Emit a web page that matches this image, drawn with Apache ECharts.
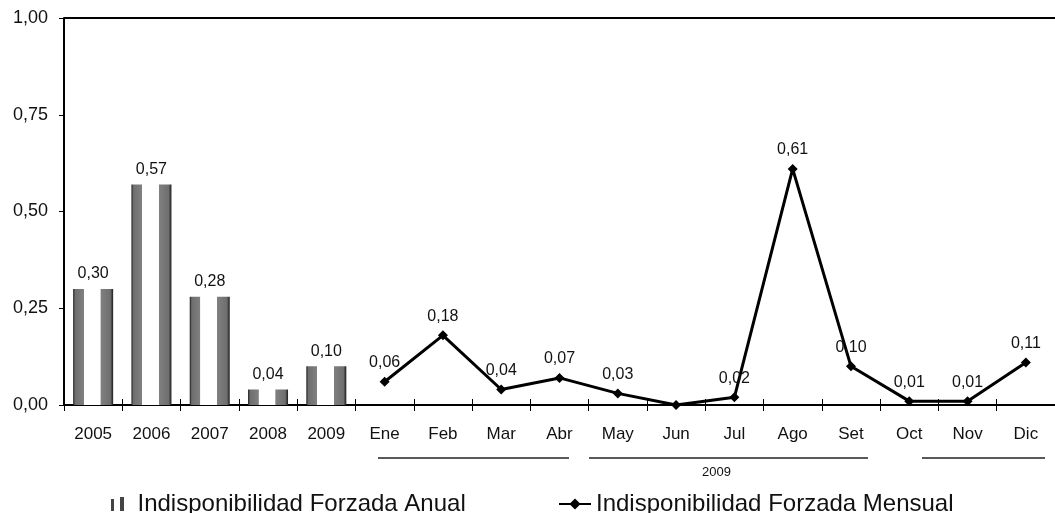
<!DOCTYPE html>
<html>
<head>
<meta charset="utf-8">
<script src="https://cdn.jsdelivr.net/npm/echarts@6/dist/echarts.min.js"></script>
<style>html,body{margin:0;padding:0;background:#fff;}#c{width:1055px;height:513px;}</style>
</head>
<body>
<div id="c"></div>
<script>
var years = ['2005', '2006', '2007', '2008', '2009'];
var annualValues = [0.30, 0.57, 0.28, 0.04, 0.10];
var months = ['Ene', 'Feb', 'Mar', 'Abr', 'May', 'Jun', 'Jul', 'Ago', 'Set', 'Oct', 'Nov', 'Dic'];
var monthlyValues = [0.06, 0.18, 0.04, 0.07, 0.03, 0.00, 0.02, 0.61, 0.10, 0.01, 0.01, 0.11];
var yTicks = [0, 0.25, 0.5, 0.75, 1];
var groupLabel = '2009';
var annualName = 'Indisponibilidad Forzada Anual';
var monthlyName = 'Indisponibilidad Forzada Mensual';

var FONT = "'Liberation Sans', Arial, sans-serif";
var categories = years.concat(months);
var barData = annualValues.concat(months.map(function () { return null; }));
var lineData = years.map(function () { return null; }).concat(monthlyValues);
function fmt(v) { return v.toFixed(2).replace('.', ','); }

var barFill = new echarts.graphic.LinearGradient(0, 0, 1, 0, [
  {offset: 0, color: '#1a1a1a'}, {offset: 0.05, color: '#6e6e6e'},
  {offset: 0.26, color: '#808080'}, {offset: 0.27, color: '#ffffff'},
  {offset: 0.68, color: '#ffffff'}, {offset: 0.69, color: '#808080'},
  {offset: 0.93, color: '#6e6e6e'}, {offset: 1, color: '#1a1a1a'}
]);

var chart = echarts.init(document.getElementById('c'), null, {renderer: 'canvas'});
chart.setOption({
  animation: false,
  backgroundColor: '#ffffff',
  textStyle: {fontFamily: FONT},
  grid: {left: 64, right: -11, top: 18, bottom: 108, containLabel: false},
  legend: [{
    left: 106, top: 487, itemWidth: 30, itemHeight: 14, itemGap: 10,
    textStyle: {fontFamily: FONT, fontSize: 24, color: '#111'},
    data: [{name: annualName, icon: 'path://M0,2h3v12h-3z M9,0h4v14h-4z', itemStyle: {color: '#444'}}]
  }, {
    left: 553, top: 487, itemWidth: 32, itemHeight: 14, itemGap: 8,
    textStyle: {fontFamily: FONT, fontSize: 24, color: '#111'},
    data: [{name: monthlyName}]
  }],
  xAxis: [{
    type: 'category', data: categories, boundaryGap: true,
    axisLine: {show: true, lineStyle: {color: '#000', width: 2}},
    axisTick: {show: true, inside: false, length: 6, lineStyle: {color: '#000', width: 1}},
    axisLabel: {fontFamily: FONT, fontSize: 17, color: '#111', margin: 21, interval: 0}
  }, {
    type: 'category', data: categories, boundaryGap: true, position: 'bottom',
    axisLine: {show: false},
    axisTick: {show: true, inside: true, length: 6, lineStyle: {color: '#000', width: 1}},
    axisLabel: {show: false}
  }],
  yAxis: {
    type: 'value', min: 0, max: 1, interval: 0.25,
    axisLine: {show: true, lineStyle: {color: '#000', width: 2}},
    axisTick: {show: true, length: 5, lineStyle: {color: '#000'}},
    axisLabel: {fontFamily: FONT, fontSize: 18, color: '#111', margin: 16,
      formatter: function (v) { return fmt(v); }},
    splitLine: {show: true, lineStyle: {color: yTicks.map(function (t) { return t === 1 ? '#000' : 'rgba(0,0,0,0)'; }), width: 2}}
  },
  series: [{
    name: annualName, type: 'bar', data: barData, barWidth: 40,
    itemStyle: {color: barFill},
    label: {show: true, position: 'top', distance: 7, fontFamily: FONT, fontSize: 16, color: '#111',
      formatter: function (p) { return p.value == null ? '' : fmt(p.value); }}
  }, {
    name: monthlyName, type: 'line', data: lineData, connectNulls: false,
    symbol: 'diamond', symbolSize: 10, showAllSymbol: true,
    lineStyle: {color: '#000', width: 3}, itemStyle: {color: '#000'},
    label: {show: true, position: 'top', distance: 6, fontFamily: FONT, fontSize: 16, color: '#111',
      formatter: function (p) { return (p.value == null || p.value === 0) ? '' : fmt(p.value); }}
  }],
  graphic: [
    {type: 'line', shape: {x1: 378, y1: 458, x2: 569, y2: 458}, style: {stroke: '#222', lineWidth: 1.5}},
    {type: 'line', shape: {x1: 589, y1: 458, x2: 868, y2: 458}, style: {stroke: '#222', lineWidth: 1.5}},
    {type: 'line', shape: {x1: 922, y1: 458, x2: 1045, y2: 458}, style: {stroke: '#222', lineWidth: 1.5}},
    {type: 'text', left: 702, top: 466, style: {text: groupLabel, fontFamily: FONT, fontSize: 13, fill: '#111'}}
  ]
});
</script>
</body>
</html>
